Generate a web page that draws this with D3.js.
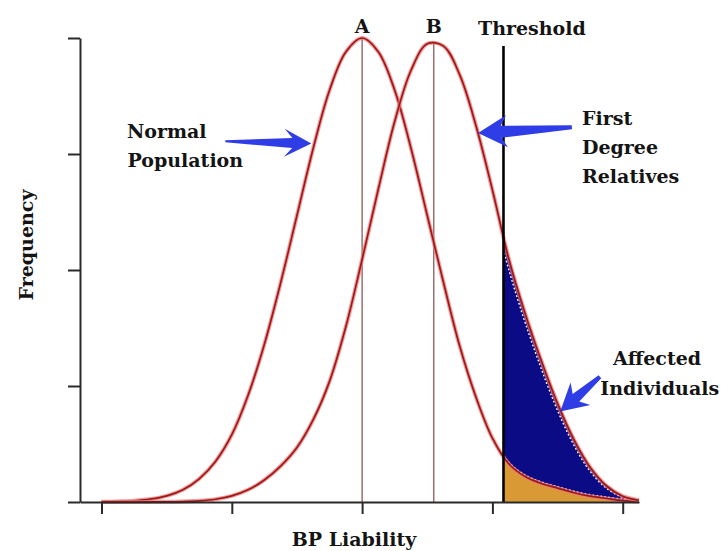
<!DOCTYPE html>
<html>
<head>
<meta charset="utf-8">
<script src="https://cdnjs.cloudflare.com/ajax/libs/d3/7.8.5/d3.min.js"></script>
<style>
  body { margin: 0; background: #fff; }
  svg { display: block; }
  .lbl { font-family: "DejaVu Serif", serif; font-weight: bold; font-size: 19px; fill: #141414; }
</style>
</head>
<body>
<svg id="chart"></svg>
<script>
// liability grid (in SD units of the normal population) and the two curves
const liability = [-4, -3.75, -3.5, -3.25, -3, -2.75, -2.5, -2.25, -2, -1.75, -1.5, -1.25, -1, -0.75, -0.5, -0.25,
  0, 0.25, 0.5, 0.75, 1, 1.25, 1.5, 1.75, 2, 2.25, 2.5, 2.75, 3, 3.25, 3.5, 3.75, 4, 4.25];
const normalPop = [0.002, 0.005, 0.011, 0.025, 0.053, 0.105, 0.20, 0.35, 0.58, 0.92, 1.36, 1.89, 2.47, 3.05, 3.55, 3.88,
  4.00, 3.88, 3.55, 3.05, 2.47, 1.89, 1.34, 0.90, 0.55, 0.33, 0.22, 0.16, 0.12, 0.08, 0.05, 0.03, 0.012, 0.004];
const relatives = [0.000, 0.000, 0.000, 0.001, 0.002, 0.004, 0.010, 0.024, 0.053, 0.105, 0.19, 0.31, 0.47, 0.71, 1.04, 1.51,
  2.09, 2.70, 3.28, 3.72, 3.95, 3.93, 3.68, 3.24, 2.69, 2.10, 1.63, 1.22, 0.85, 0.54, 0.30, 0.14, 0.05, 0.015];

// means of the two groups and the threshold
const meanA = 0, peakA = 4.00;
const meanB = 1.1, peakB = 3.97;
const threshold = 2.17;

// axis ticks
const xTicks = [-4, -2, 0, 2, 4];
const yTicks = [0, 1, 2, 3, 4];

// annotation text (data units)
const labels = [
  { text: "A", x: 0, y: 4.04, anchor: "middle" },
  { text: "B", x: 1.1, y: 4.04, anchor: "middle" },
  { text: "Threshold", x: 1.78, y: 4.03, anchor: "start" },
  { text: "Normal", x: -3.61, y: 3.14, anchor: "start" },
  { text: "Population", x: -3.60, y: 2.89, anchor: "start" },
  { text: "First", x: 3.375, y: 3.25, anchor: "start" },
  { text: "Degree", x: 3.375, y: 3.0, anchor: "start" },
  { text: "Relatives", x: 3.375, y: 2.75, anchor: "start" },
  { text: "Affected", x: 3.85, y: 1.18, anchor: "start" },
  { text: "Individuals", x: 5.48, y: 0.92, anchor: "end" }
];

// blue arrows: tail and tip in data units
const arrows = [
  { tail: [-2.10, 3.11], tip: [-0.78, 3.09], head: 27, half: 14, notch: 8, wTail: 1, wHead: 5 },
  { tail: [3.22, 3.23], tip: [1.78, 3.18], head: 29, half: 16, notch: 6, wTail: 2, wHead: 6 },
  { tail: [3.65, 1.08], tip: [3.04, 0.78], head: 27, half: 15, notch: 6, wTail: 2, wHead: 5 }
];

const width = 723, height = 551;
const svg = d3.select("#chart").attr("width", width).attr("height", height);

const xScale = d3.scaleLinear().domain([-4.33, 4.25]).range([80, 639]);
const yScale = d3.scaleLinear().domain([0, 4]).range([502, 38]);

const ptsA = liability.map((x, i) => [x, normalPop[i]]);
const ptsB = liability.map((x, i) => [x, relatives[i]]);

const line = d3.line()
  .x(d => xScale(d[0]))
  .y(d => yScale(d[1]))
  .curve(d3.curveCatmullRom.alpha(0.5));

const area = d3.area()
  .x(d => xScale(d[0]))
  .y0(yScale(0))
  .y1(d => yScale(d[1]))
  .curve(d3.curveCatmullRom.alpha(0.5));

// clip everything right of the threshold
svg.append("defs").append("clipPath").attr("id", "tail")
  .append("rect")
  .attr("x", xScale(threshold))
  .attr("y", 0)
  .attr("width", width - xScale(threshold))
  .attr("height", yScale(0));

let tail = svg.append("g").attr("clip-path", "url(#tail)");
tail.append("path").datum(ptsB).attr("d", area).attr("fill", "#0b0b86");
tail.append("path").datum(ptsA).attr("d", area).attr("fill", "#d99a35");
// white dotted edges inside the shaded region
tail.append("path").datum(ptsB).attr("d", line)
  .attr("fill", "none").attr("stroke", "#fff").attr("stroke-width", 1.5)
  .attr("stroke-linecap", "round")
  .attr("stroke-dasharray", "0.5,3.5").attr("transform", "translate(-3,0)");
tail.append("path").datum(ptsA).attr("d", line)
  .attr("fill", "none").attr("stroke", "#fff").attr("stroke-width", 1.5)
  .attr("stroke-linecap", "round")
  .attr("stroke-dasharray", "0.5,3.5").attr("transform", "translate(0,-1.5)");

// mean lines
svg.selectAll(".mean")
  .data([[meanA, peakA], [meanB, peakB]])
  .enter()
  .append("line")
  .attr("class", "mean")
  .attr("x1", d => xScale(d[0]))
  .attr("x2", d => xScale(d[0]))
  .attr("y1", d => yScale(d[1]))
  .attr("y2", yScale(0))
  .attr("stroke", "#8c5a5a")
  .attr("stroke-width", 1.3);

// the two curves: pink halo under a dark red core
[ptsA, ptsB].forEach(pts => {
  svg.append("path").datum(pts).attr("d", line)
    .attr("fill", "none").attr("stroke", "#f07a7a").attr("stroke-width", 4).attr("opacity", 0.75);
  svg.append("path").datum(pts).attr("d", line)
    .attr("fill", "none").attr("stroke", "#9a1a1a").attr("stroke-width", 1.7);
});

// threshold line
svg.append("line")
  .attr("x1", xScale(threshold)).attr("x2", xScale(threshold))
  .attr("y1", yScale(3.93)).attr("y2", yScale(0))
  .attr("stroke", "#000").attr("stroke-width", 2.6);

// axes
let xAxis = svg.append("g")
  .attr("transform", `translate(0,${yScale(0)})`)
  .call(d3.axisBottom(xScale).tickValues(xTicks).tickFormat("").tickSizeInner(12).tickSizeOuter(0));
let yAxis = svg.append("g")
  .attr("transform", `translate(${xScale.range()[0]},0)`)
  .call(d3.axisLeft(yScale).tickValues(yTicks).tickFormat("").tickSizeInner(12).tickSizeOuter(0));
[xAxis, yAxis].forEach(a => {
  a.select(".domain").attr("stroke", "#2a2a2a").attr("stroke-width", 2);
  a.selectAll(".tick line").attr("stroke", "#2a2a2a").attr("stroke-width", 2);
});

// arrows
function arrowPath(a) {
  let t = [xScale(a.tail[0]), yScale(a.tail[1])];
  let p = [xScale(a.tip[0]), yScale(a.tip[1])];
  let len = Math.hypot(p[0] - t[0], p[1] - t[1]);
  let u = [(p[0] - t[0]) / len, (p[1] - t[1]) / len];
  let n = [-u[1], u[0]];
  let base = [p[0] - u[0] * a.head, p[1] - u[1] * a.head];
  let join = [base[0] + u[0] * a.notch, base[1] + u[1] * a.notch];
  let pts = [
    [t[0] + n[0] * a.wTail, t[1] + n[1] * a.wTail],
    [join[0] + n[0] * a.wHead, join[1] + n[1] * a.wHead],
    [base[0] + n[0] * a.half, base[1] + n[1] * a.half],
    p,
    [base[0] - n[0] * a.half, base[1] - n[1] * a.half],
    [join[0] - n[0] * a.wHead, join[1] - n[1] * a.wHead],
    [t[0] - n[0] * a.wTail, t[1] - n[1] * a.wTail]
  ];
  return "M" + pts.map(q => q.join(",")).join("L") + "Z";
}

svg.selectAll(".arrow")
  .data(arrows)
  .enter()
  .append("path")
  .attr("class", "arrow")
  .attr("d", arrowPath)
  .attr("fill", "#2f3de6");

// labels
svg.selectAll(".note")
  .data(labels)
  .enter()
  .append("text")
  .attr("class", "lbl note")
  .attr("x", d => xScale(d.x))
  .attr("y", d => yScale(d.y))
  .attr("text-anchor", d => d.anchor)
  .text(d => d.text);

// axis titles
svg.append("text")
  .attr("class", "lbl")
  .attr("x", 354).attr("y", 546)
  .attr("text-anchor", "middle")
  .text("BP Liability");

svg.append("text")
  .attr("class", "lbl")
  .attr("transform", "translate(33,245) rotate(-90)")
  .attr("text-anchor", "middle")
  .text("Frequency");
</script>
</body>
</html>
